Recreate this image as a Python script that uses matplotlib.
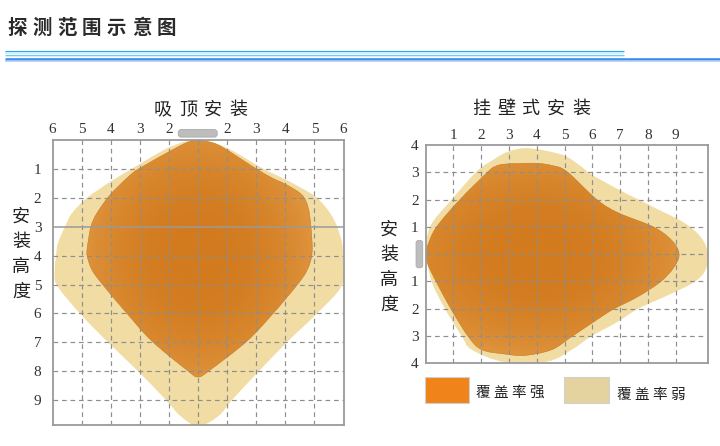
import numpy as np
import matplotlib
matplotlib.use("Agg")
import matplotlib.pyplot as plt
from matplotlib.path import Path
from matplotlib.patches import PathPatch, FancyBboxPatch, Rectangle
from matplotlib.lines import Line2D

plt.rcParams['font.family'] = ['Noto Sans CJK SC', 'DejaVu Sans']

# ---- ceiling mount: x = horizontal distance (m), y = depth below ceiling (m)
ceiling_strong_x = [0.0, 0.35, 0.82, 1.96, 2.54, 3.06, 3.57, 3.78, 3.88, 3.92, 3.75, 3.40, 2.58, 1.68, 0.41,
                    0.0, -0.38, -1.58, -2.44, -3.26, -3.64, -3.81, -3.80, -3.68, -3.47, -3.02, -2.40, -1.99, -0.69, -0.3]
ceiling_strong_y = [0.0, 0.06, 0.24, 0.97, 1.31, 1.56, 1.90, 2.32, 3.00, 3.90, 4.50, 5.02, 6.00, 6.96, 7.96,
                    8.20, 7.96, 6.96, 6.00, 5.02, 4.50, 4.00, 3.70, 3.00, 2.53, 1.90, 1.28, 0.97, 0.24, 0.06]
ceiling_weak_x = [0.0, 0.93, 2.20, 2.89, 3.50, 4.09, 4.54, 4.78, 4.95, 4.98, 4.95, 4.09, 3.09, 2.13, 1.20, 0.70,
                  0.0, -0.60, -1.13, -2.10, -3.13, -4.06, -4.85, -4.92, -4.88, -4.81, -4.57, -4.33, -3.81, -3.02, -2.23, -0.96]
ceiling_weak_y = [0.0, 0.24, 0.97, 1.31, 1.63, 2.00, 2.53, 3.00, 3.56, 4.05, 5.02, 6.00, 6.96, 7.96, 8.96, 9.55,
                  9.90, 9.55, 8.96, 7.96, 6.96, 6.00, 5.02, 4.50, 4.00, 3.56, 3.00, 2.53, 2.00, 1.45, 0.97, 0.24]
ceiling_xticks = [-5, -4, -3, -2, -1, 0, 1, 2, 3, 4, 5]
ceiling_xlabels = ["6", "5", "4", "3", "2", "", "2", "3", "4", "5", "6"]
ceiling_yticks = [1, 2, 3, 4, 5, 6, 7, 8, 9]
ceiling_mark_height = 3

# ---- wall mount: x = distance from wall (m), y = height relative to sensor (m)
wall_strong_x = [0.02, 0.09, 0.40, 1.24, 2.26, 2.50, 2.86, 3.94, 4.54, 5.08, 6.16, 6.94, 8.19, 8.86, 9.12,
                 8.92, 8.44, 7.65, 6.70, 5.98, 5.26, 4.54, 3.58, 2.86, 2.02, 1.54, 0.94, 0.40, 0.09]
wall_strong_y = [0.0, 0.35, 1.00, 2.00, 3.03, 3.21, 3.30, 3.33, 3.25, 3.03, 2.00, 1.51, 1.00, 0.50, 0.0,
                 -0.50, -1.02, -1.55, -2.05, -2.53, -3.02, -3.50, -3.71, -3.66, -3.50, -3.02, -2.05, -1.04, -0.39]
wall_weak_x = [0.05, 0.16, 0.94, 1.84, 2.38, 2.98, 3.72, 4.92, 5.52, 6.00, 6.96, 7.68, 8.40, 9.24, 9.83, 10.13,
               10.10, 9.70, 8.73, 7.65, 6.88, 5.98, 5.26, 4.40, 2.86, 1.66, 1.30, 0.70, 0.22]
wall_weak_y = [0.0, 1.00, 2.00, 3.03, 3.42, 3.76, 3.88, 3.64, 3.27, 2.90, 2.36, 1.99, 1.62, 1.19, 0.71, 0.16,
               -0.50, -1.00, -1.50, -2.00, -2.50, -3.00, -3.50, -3.93, -3.96, -3.50, -3.00, -2.00, -1.00]
wall_xticks = [1, 2, 3, 4, 5, 6, 7, 8, 9]
wall_yticks = [4, 3, 2, 1, 0, -1, -2, -3, -4]
wall_ylabels = ["4", "3", "2", "1", "", "1", "2", "3", "4"]

legend_labels = ["覆盖率强", "覆盖率弱"]

W, H = 720, 446
STRONG_IN = np.array([210, 122, 30]) / 255
STRONG_OUT = np.array([224, 152, 66]) / 255
WEAK = "#F1DCA3"
GRID = "#8E8E8E"
SPINE = "#9A9A9A"
TEXT = "#222222"
SENSOR = "#BDBDBD"
DIGIT_FONT = ["Liberation Serif", "DejaVu Serif"]


def fx(px):
    return px / W


def fy(py):
    return 1 - py / H


def smooth_closed_path(xs, ys):
    """Closed Catmull-Rom outline through the given points, as cubic Beziers."""
    pts = np.column_stack([xs, ys]).astype(float)
    n = len(pts)
    verts = [pts[0]]
    codes = [Path.MOVETO]
    for i in range(n):
        p0, p1, p2, p3 = pts[(i - 1) % n], pts[i], pts[(i + 1) % n], pts[(i + 2) % n]
        verts += [p1 + (p2 - p0) / 6.0, p2 - (p3 - p1) / 6.0, p2]
        codes += [Path.CURVE4] * 3
    verts.append(pts[0])
    codes.append(Path.CLOSEPOLY)
    return Path(verts, codes)


def draw_region(ax, xs, ys, center, radius, gradient=False, color=WEAK, z=2):
    path = smooth_closed_path(xs, ys)
    if not gradient:
        ax.add_patch(PathPatch(path, facecolor=color, edgecolor="none", zorder=z))
        return
    patch = PathPatch(path, facecolor="none", edgecolor="#CD781E", lw=0.4, zorder=z + 0.1)
    ax.add_patch(patch)
    ext = path.get_extents()
    gx = np.linspace(ext.x0, ext.x1, 300)
    gy = np.linspace(ext.y0, ext.y1, 300)
    X, Y = np.meshgrid(gx, gy)
    d = np.hypot((X - center[0]) / radius[0], (Y - center[1]) / radius[1])
    t = np.clip(d, 0, 1) ** 2.4
    img = STRONG_IN * (1 - t)[..., None] + STRONG_OUT * t[..., None]
    im = ax.imshow(img, extent=(ext.x0, ext.x1, ext.y0, ext.y1), origin="lower",
                   aspect="auto", interpolation="bilinear", zorder=z)
    im.set_clip_path(patch)


def spaced_text(x_px, y_px, s, step, vertical=False, **kw):
    for i, ch in enumerate(s):
        if vertical:
            fig.text(fx(x_px), fy(y_px + i * step), ch, ha="center", va="center", **kw)
        else:
            fig.text(fx(x_px + i * step), fy(y_px), ch, ha="center", va="center", **kw)


def style_axes(ax):
    ax.set_facecolor("white")
    for sp in ax.spines.values():
        sp.set_color(SPINE)
        sp.set_linewidth(1.3)
        sp.set_zorder(6)
    ax.tick_params(length=0, labelsize=11, colors="#333333")
    ax.xaxis.tick_top()
    for lab in ax.get_xticklabels() + ax.get_yticklabels():
        lab.set_family(DIGIT_FONT)


fig = plt.figure(figsize=(W / 100, H / 100), dpi=100)
fig.patch.set_facecolor("white")

# ---- header
spaced_text(17, 28, "探测范围示意图", 24.9, fontsize=14, fontweight="bold", color="#2a2a2a")
for y, c, w, x1 in [(50.5, "#2AA6EF", 1.1, 624), (52.7, "#C4ECFB", 1.6, 624),
                    (54.6, "#6ACDF4", 1.1, 624), (56.2, "#D6F1FB", 1.0, 624),
                    (59.0, "#3A8CF0", 2.6, 720), (61.3, "#AFCBF3", 1.6, 720)]:
    fig.add_artist(Line2D([fx(5), fx(x1)], [fy(y), fy(y)], color=c, lw=w * 0.72,
                          transform=fig.transFigure, solid_capstyle="butt"))

# ---- ceiling mount panel
ax1 = fig.add_axes([fx(52.5), fy(425), fx(343.5) - fx(52.5), fy(140) - fy(425)])
draw_region(ax1, ceiling_weak_x, ceiling_weak_y, None, None, color=WEAK, z=2)
draw_region(ax1, ceiling_strong_x, ceiling_strong_y, (0.0, 4.0), (4.2, 4.6), gradient=True, z=3)
for x in ceiling_xticks[1:-1]:
    ax1.axvline(x, color=GRID, lw=0.85, ls=(0, (4, 3.2)), zorder=4)
for y in ceiling_yticks:
    if y == ceiling_mark_height:
        ax1.axhline(y, color=SPINE, lw=1.1, zorder=4)
    else:
        ax1.axhline(y, color=GRID, lw=0.85, ls=(0, (4, 3.2)), zorder=4)
ax1.set_xlim(-5, 5)
ax1.set_ylim(9.86, 0)
ax1.set_xticks(ceiling_xticks)
ax1.set_xticklabels(ceiling_xlabels)
ax1.set_yticks(ceiling_yticks)
ax1.set_yticklabels([str(v) for v in ceiling_yticks])
style_axes(ax1)
ax1.tick_params(axis="x", pad=3)
ax1.tick_params(axis="y", pad=8)
# ceiling-mounted sensor body
ax1.add_patch(FancyBboxPatch((-0.68, -0.36), 1.34, 0.26, boxstyle="round,pad=0,rounding_size=0.1",
                             facecolor=SENSOR, edgecolor="#ABABAB", lw=0.6, clip_on=False, zorder=7))

spaced_text(163, 110, "吸顶安装", 25, fontsize=13, color=TEXT)
spaced_text(21, 217, "安装高度", 25, vertical=True, fontsize=13, color=TEXT)

# ---- wall mount panel
ax2 = fig.add_axes([fx(425.5), fy(363.3), fx(708.3) - fx(425.5), fy(145) - fy(363.3)])
draw_region(ax2, wall_weak_x, wall_weak_y, None, None, color=WEAK, z=2)
draw_region(ax2, wall_strong_x, wall_strong_y, (4.0, 0.0), (5.6, 4.0), gradient=True, z=3)
for x in wall_xticks:
    ax2.axvline(x, color=GRID, lw=0.85, ls=(0, (4, 3.2)), zorder=4)
for y in wall_yticks[1:-1]:
    ax2.axhline(y, color=GRID, lw=0.85, ls=(0, (4, 3.2)), zorder=4)
ax2.set_xlim(0, 10.17)
ax2.set_ylim(-4, 4)
ax2.set_xticks(wall_xticks)
ax2.set_xticklabels([str(v) for v in wall_xticks])
ax2.set_yticks(wall_yticks)
ax2.set_yticklabels(wall_ylabels)
style_axes(ax2)
ax2.tick_params(axis="x", pad=2)
ax2.tick_params(axis="y", pad=5)
# wall-mounted sensor body
ax2.add_patch(FancyBboxPatch((-0.34, -0.5), 0.24, 1.0, boxstyle="round,pad=0,rounding_size=0.09",
                             facecolor=SENSOR, edgecolor="#ABABAB", lw=0.6, clip_on=False, zorder=7))

spaced_text(481, 109, "挂壁式安装", 25, fontsize=13, color=TEXT)
spaced_text(389, 230, "安装高度", 25, vertical=True, fontsize=13, color=TEXT)

# ---- legend
for (x0, x1, col), lab, tx, ty in zip([(425, 469, "#F0831A"), (564, 609, "#E4D39F")],
                                       legend_labels, [483, 624], [393, 395]):
    fig.add_artist(Rectangle((fx(x0), fy(403)), fx(x1) - fx(x0), fy(377) - fy(403),
                             transform=fig.transFigure, facecolor=col, edgecolor="#D0D0D0", lw=0.8))
    spaced_text(tx, ty, lab, 18, fontsize=10.5, color=TEXT)

fig.savefig("out.png", dpi=100, facecolor="white")
